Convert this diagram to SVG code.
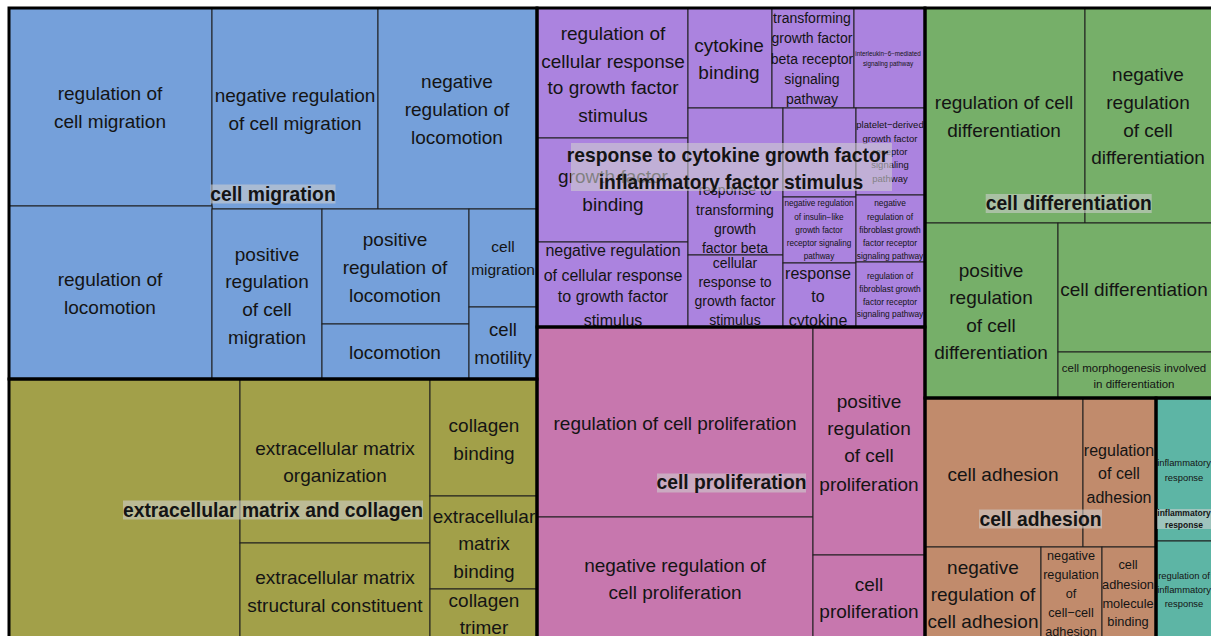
<svg xmlns="http://www.w3.org/2000/svg" width="1211" height="636" viewBox="0 0 1211 636">
<style>
text{font-family:"Liberation Sans",Arial,Helvetica,sans-serif;text-anchor:middle;fill:#141414}
.b{font-weight:bold}
.lf{stroke:#1e1e1e;stroke-width:1}
.gr{fill:none;stroke:#000;stroke-width:3}
.ov{fill:#cfcfcf;fill-opacity:0.58}
.blue{fill:#75a0da}.olive{fill:#a2a049}.purple{fill:#ab83df}.pink{fill:#c777ae}.green{fill:#76af69}.brown{fill:#c18b6c}.teal{fill:#5db5a5}
</style>
<rect x="0" y="0" width="1211" height="636" fill="#ffffff"/>

<g id="cell-migration">
<rect class="lf blue" x="9" y="8" width="203" height="198"/>
<rect class="lf blue" x="212" y="8" width="166" height="201"/>
<rect class="lf blue" x="378" y="8" width="159" height="201"/>
<rect class="lf blue" x="9" y="206" width="203" height="173"/>
<rect class="lf blue" x="212" y="209" width="110" height="170"/>
<rect class="lf blue" x="322" y="209" width="147" height="115"/>
<rect class="lf blue" x="322" y="324" width="147" height="55"/>
<rect class="lf blue" x="469" y="209" width="68" height="98"/>
<rect class="lf blue" x="469" y="307" width="68" height="72"/>
<text font-size="19"><tspan x="110" y="100">regulation of</tspan><tspan x="110" y="128">cell migration</tspan></text>
<text font-size="19"><tspan x="295" y="102">negative regulation</tspan><tspan x="295" y="130">of cell migration</tspan></text>
<text font-size="19"><tspan x="457" y="88">negative</tspan><tspan x="457" y="116">regulation of</tspan><tspan x="457" y="144">locomotion</tspan></text>
<text font-size="19"><tspan x="110" y="286">regulation of</tspan><tspan x="110" y="314">locomotion</tspan></text>
<text font-size="19"><tspan x="267" y="261">positive</tspan><tspan x="267" y="288">regulation</tspan><tspan x="267" y="316">of cell</tspan><tspan x="267" y="344">migration</tspan></text>
<text font-size="19"><tspan x="395" y="246">positive</tspan><tspan x="395" y="274">regulation of</tspan><tspan x="395" y="302">locomotion</tspan></text>
<text font-size="19" x="395" y="359">locomotion</text>
<text font-size="15.5"><tspan x="503" y="252">cell</tspan><tspan x="503" y="275">migration</tspan></text>
<text font-size="18.5"><tspan x="503" y="336">cell</tspan><tspan x="503" y="364">motility</tspan></text>
</g>

<g id="extracellular-matrix">
<rect class="lf olive" x="9" y="379" width="231" height="261"/>
<rect class="lf olive" x="240" y="379" width="190" height="164"/>
<rect class="lf olive" x="240" y="543" width="190" height="97"/>
<rect class="lf olive" x="430" y="379" width="107" height="117"/>
<rect class="lf olive" x="430" y="496" width="107" height="93"/>
<rect class="lf olive" x="430" y="589" width="107" height="51"/>
<text font-size="19"><tspan x="335" y="455">extracellular matrix</tspan><tspan x="335" y="482">organization</tspan></text>
<text font-size="19"><tspan x="335" y="584">extracellular matrix</tspan><tspan x="335" y="612">structural constituent</tspan></text>
<text font-size="19"><tspan x="484" y="432">collagen</tspan><tspan x="484" y="460">binding</tspan></text>
<text font-size="19"><tspan x="484" y="523">extracellular</tspan><tspan x="484" y="550">matrix</tspan><tspan x="484" y="578">binding</tspan></text>
<text font-size="19"><tspan x="484" y="607">collagen</tspan><tspan x="484" y="634">trimer</tspan></text>
</g>

<g id="cytokine-growth-factor">
<rect class="lf purple" x="537" y="8" width="151" height="130"/>
<rect class="lf purple" x="537" y="138" width="151" height="104"/>
<rect class="lf purple" x="537" y="242" width="151" height="85"/>
<rect class="lf purple" x="688" y="8" width="84" height="100"/>
<rect class="lf purple" x="772" y="8" width="82" height="100"/>
<rect class="lf purple" x="854" y="8" width="71" height="100"/>
<rect class="lf purple" x="688" y="108" width="95" height="147"/>
<rect class="lf purple" x="688" y="255" width="95" height="72"/>
<rect class="lf purple" x="783" y="108" width="73" height="89"/>
<rect class="lf purple" x="783" y="197" width="73" height="66"/>
<rect class="lf purple" x="783" y="263" width="73" height="64"/>
<rect class="lf purple" x="856" y="108" width="69" height="87"/>
<rect class="lf purple" x="856" y="195" width="69" height="67"/>
<rect class="lf purple" x="856" y="262" width="69" height="65"/>
<text font-size="19"><tspan x="613" y="40">regulation of</tspan><tspan x="613" y="68">cellular response</tspan><tspan x="613" y="94">to growth factor</tspan><tspan x="613" y="122">stimulus</tspan></text>
<text font-size="19"><tspan x="613" y="183">growth factor</tspan><tspan x="613" y="211">binding</tspan></text>
<text font-size="16"><tspan x="613" y="256">negative regulation</tspan><tspan x="613" y="281">of cellular response</tspan><tspan x="613" y="302">to growth factor</tspan><tspan x="613" y="326">stimulus</tspan></text>
<text font-size="19"><tspan x="729" y="52">cytokine</tspan><tspan x="729" y="79">binding</tspan></text>
<text font-size="14"><tspan x="812" y="23">transforming</tspan><tspan x="812" y="43">growth factor</tspan><tspan x="812" y="64">beta receptor</tspan><tspan x="812" y="84">signaling</tspan><tspan x="812" y="104">pathway</tspan></text>
<text font-size="6.3"><tspan x="888" y="55.5">interleukin−6−mediated</tspan><tspan x="888" y="66">signaling pathway</tspan></text>
<text font-size="14"><tspan x="735" y="195">response to</tspan><tspan x="735" y="215">transforming</tspan><tspan x="735" y="234">growth</tspan><tspan x="735" y="253">factor beta</tspan></text>
<text font-size="14"><tspan x="735" y="268">cellular</tspan><tspan x="735" y="287">response to</tspan><tspan x="735" y="306">growth factor</tspan><tspan x="735" y="325">stimulus</tspan></text>
<text font-size="8.2"><tspan x="819" y="206">negative regulation</tspan><tspan x="819" y="219.5">of insulin−like</tspan><tspan x="819" y="233">growth factor</tspan><tspan x="819" y="245.5">receptor signaling</tspan><tspan x="819" y="258.5">pathway</tspan></text>
<text font-size="16"><tspan x="818" y="279">response</tspan><tspan x="818" y="302">to</tspan><tspan x="818" y="326">cytokine</tspan></text>
<text font-size="9.5"><tspan x="890" y="128">platelet−derived</tspan><tspan x="890" y="142">growth factor</tspan><tspan x="890" y="155">receptor</tspan><tspan x="890" y="168">signaling</tspan><tspan x="890" y="182">pathway</tspan></text>
<text font-size="8.4"><tspan x="890" y="206">negative</tspan><tspan x="890" y="219.5">regulation of</tspan><tspan x="890" y="233">fibroblast growth</tspan><tspan x="890" y="245.5">factor receptor</tspan><tspan x="890" y="258.5">signaling pathway</tspan></text>
<text font-size="8.4"><tspan x="890" y="279">regulation of</tspan><tspan x="890" y="292">fibroblast growth</tspan><tspan x="890" y="304.5">factor receptor</tspan><tspan x="890" y="317">signaling pathway</tspan></text>
</g>

<g id="cell-proliferation">
<rect class="lf pink" x="537" y="327" width="276" height="190"/>
<rect class="lf pink" x="537" y="517" width="276" height="123"/>
<rect class="lf pink" x="813" y="327" width="112" height="228"/>
<rect class="lf pink" x="813" y="555" width="112" height="85"/>
<text font-size="19" x="675" y="430">regulation of cell proliferation</text>
<text font-size="19"><tspan x="675" y="572">negative regulation of</tspan><tspan x="675" y="599">cell proliferation</tspan></text>
<text font-size="19"><tspan x="869" y="408">positive</tspan><tspan x="869" y="435">regulation</tspan><tspan x="869" y="462">of cell</tspan><tspan x="869" y="491">proliferation</tspan></text>
<text font-size="19"><tspan x="869" y="591">cell</tspan><tspan x="869" y="618">proliferation</tspan></text>
</g>

<g id="cell-differentiation">
<rect class="lf green" x="925" y="8" width="160" height="215"/>
<rect class="lf green" x="1085" y="8" width="129" height="215"/>
<rect class="lf green" x="925" y="223" width="133" height="175"/>
<rect class="lf green" x="1058" y="223" width="156" height="129"/>
<rect class="lf green" x="1058" y="352" width="156" height="46"/>
<text font-size="19"><tspan x="1004" y="109">regulation of cell</tspan><tspan x="1004" y="137">differentiation</tspan></text>
<text font-size="19"><tspan x="1148" y="81">negative</tspan><tspan x="1148" y="109">regulation</tspan><tspan x="1148" y="137">of cell</tspan><tspan x="1148" y="164">differentiation</tspan></text>
<text font-size="19"><tspan x="991" y="277">positive</tspan><tspan x="991" y="304">regulation</tspan><tspan x="991" y="332">of cell</tspan><tspan x="991" y="359">differentiation</tspan></text>
<text font-size="19" x="1134" y="296">cell differentiation</text>
<text font-size="11.5"><tspan x="1134" y="371.7">cell morphogenesis involved</tspan><tspan x="1134" y="388.3">in differentiation</tspan></text>
</g>

<g id="cell-adhesion">
<rect class="lf brown" x="925" y="398" width="158" height="149"/>
<rect class="lf brown" x="1083" y="398" width="73" height="149"/>
<rect class="lf brown" x="925" y="547" width="116" height="93"/>
<rect class="lf brown" x="1041" y="547" width="61" height="93"/>
<rect class="lf brown" x="1102" y="547" width="54" height="93"/>
<text font-size="19" x="1003" y="481">cell adhesion</text>
<text font-size="16"><tspan x="1119" y="455.6">regulation</tspan><tspan x="1119" y="479">of cell</tspan><tspan x="1119" y="503">adhesion</tspan></text>
<text font-size="19"><tspan x="983" y="573.5">negative</tspan><tspan x="983" y="600.7">regulation of</tspan><tspan x="983" y="627.7">cell adhesion</tspan></text>
<text font-size="12.7"><tspan x="1071" y="560">negative</tspan><tspan x="1071" y="579.4">regulation</tspan><tspan x="1071" y="598.4">of</tspan><tspan x="1071" y="617">cell−cell</tspan><tspan x="1071" y="635.7">adhesion</tspan></text>
<text font-size="12.8"><tspan x="1128" y="569.2">cell</tspan><tspan x="1128" y="588.5">adhesion</tspan><tspan x="1128" y="607.5">molecule</tspan><tspan x="1128" y="626.2">binding</tspan></text>
</g>

<g id="inflammatory-response">
<rect class="lf teal" x="1156" y="398" width="58" height="143"/>
<rect class="lf teal" x="1156" y="541" width="58" height="99"/>
<text font-size="9.4"><tspan x="1184" y="466">inflammatory</tspan><tspan x="1184" y="481">response</tspan></text>
<text font-size="9.4"><tspan x="1184" y="579">regulation of</tspan><tspan x="1184" y="593.3">inflammatory</tspan><tspan x="1184" y="607.3">response</tspan></text>
</g>

<g id="group-borders">
<rect class="gr" x="9" y="8" width="528" height="371"/>
<rect class="gr" x="9" y="379" width="528" height="261"/>
<rect class="gr" x="537" y="8" width="388" height="319"/>
<rect class="gr" x="537" y="327" width="388" height="313"/>
<rect class="gr" x="925" y="8" width="289" height="390"/>
<rect class="gr" x="925" y="398" width="231" height="242"/>
<rect class="gr" x="1156" y="398" width="58" height="242"/>
</g>

<g id="group-labels">
<rect class="ov" x="210.5" y="184.5" width="125" height="19"/>
<text class="b" font-size="19.3" x="273" y="201">cell migration</text>
<rect class="ov" x="123" y="500.5" width="300" height="19"/>
<text class="b" font-size="19.3" x="273" y="516.7">extracellular matrix and collagen</text>
<rect class="ov" x="571" y="143" width="321" height="48"/>
<text class="b" font-size="19.3"><tspan x="727.5" y="161.7">response to cytokine growth factor</tspan><tspan x="731" y="189">inflammatory factor stimulus</tspan></text>
<rect class="ov" x="657" y="473.5" width="149" height="19"/>
<text class="b" font-size="19.3" x="731.5" y="489.4">cell proliferation</text>
<rect class="ov" x="985.7" y="194" width="166" height="19"/>
<text class="b" font-size="19.3" x="1068.7" y="210">cell differentiation</text>
<rect class="ov" x="979" y="509.5" width="123" height="19"/>
<text class="b" font-size="19.3" x="1040.5" y="525.7">cell adhesion</text>
<rect class="ov" x="1157" y="509" width="56" height="20"/>
<text class="b" font-size="8.5"><tspan x="1184" y="515.7">inflammatory</tspan><tspan x="1184" y="528">response</tspan></text>
</g>
</svg>
